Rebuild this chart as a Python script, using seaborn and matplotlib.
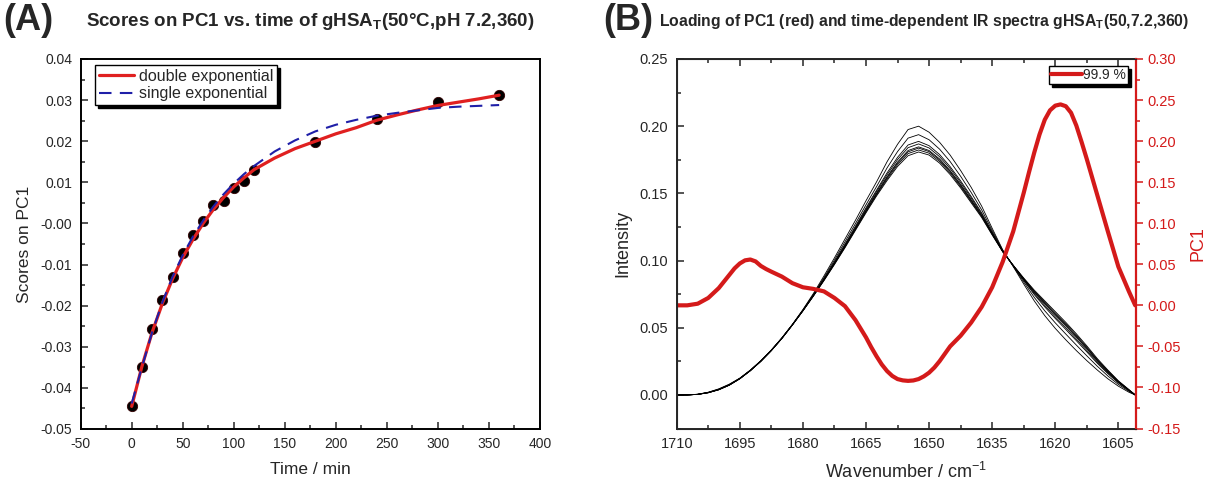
import numpy as np
import seaborn as sns
import matplotlib.pyplot as plt
from matplotlib.ticker import MultipleLocator, FormatStrFormatter

# ---------------- panel A: scores on PC1 vs time ----------------
time_pts = [0, 10, 20, 30, 40, 50, 60, 70, 80, 90, 100, 110, 120, 180, 240, 300, 360]
score_pts = [-0.0445, -0.0348, -0.0257, -0.0186, -0.0131, -0.0073, -0.0028, 0.0006, 0.0045,
             0.0055, 0.0085, 0.0103, 0.0130, 0.0198, 0.0253, 0.0296, 0.0312]

fit_time = [0, 10, 20, 30, 40, 50, 60, 70, 80, 90, 100, 110, 120,
            140, 160, 180, 200, 220, 240, 260, 280, 300, 320, 340, 360]
double_exp = [-0.0445, -0.0348, -0.0265, -0.0195, -0.0135, -0.0083, -0.0039, 0.0000, 0.0034,
              0.0063, 0.0089, 0.0111, 0.0131, 0.0159, 0.0182, 0.0200, 0.0218, 0.0233, 0.0251,
              0.0264, 0.0276, 0.0287, 0.0295, 0.0303, 0.0312]
single_exp = [-0.0438, -0.0350, -0.0265, -0.0192, -0.0130, -0.0077, -0.0032, 0.0007, 0.0041,
              0.0071, 0.0097, 0.0120, 0.0140, 0.0175, 0.0202, 0.0224, 0.0240, 0.0252, 0.0262,
              0.0269, 0.0275, 0.0281, 0.0284, 0.0286, 0.0288]

# ---------------- panel B: IR spectra + PC1 loading ----------------
wavenumber = [1710, 1707.5, 1705, 1702.5, 1700, 1697.5, 1695, 1692.5, 1690, 1687.5, 1685, 1682.5,
              1680, 1677.5, 1675, 1672.5, 1670, 1667.5, 1665, 1662.5, 1660, 1657.5, 1655, 1652.5,
              1650, 1647.5, 1645, 1642.5, 1640, 1637.5, 1635, 1632.5, 1630, 1627.5, 1625, 1622.5,
              1620, 1617.5, 1615, 1612.5, 1610, 1607.5, 1605, 1602.5, 1601]

# intensities in units of 1e-3, earliest spectrum first
spec_1 = [0, 0, 0.5, 2.0, 4.5, 8.0, 12.5, 18.5, 25.5, 33.5, 42.5, 52.5, 63.5, 75.5, 88.5, 102.0,
          116.0, 130.0, 144.5, 158.5, 173.5, 186.5, 197.5, 200.0, 195.5, 188.0, 178.5, 167.0, 154.5,
          140.5, 124.0, 108.0, 95.5, 82.5, 70.0, 59.0, 49.5, 41.0, 33.0, 25.5, 18.5, 12.0, 6.5, 2.0, 0]
spec_2 = [0, 0, 0.5, 1.9, 4.3, 7.7, 12.3, 18.3, 25.3, 33.3, 42.3, 52.3, 63.2, 74.8, 87.3, 100.4,
          113.9, 127.5, 141.5, 155.0, 168.9, 181.1, 191.1, 193.7, 189.9, 182.9, 173.7, 162.7, 150.7,
          137.7, 122.4, 107.5, 95.8, 84.0, 72.6, 62.6, 53.6, 45.3, 37.1, 29.1, 21.3, 14.1, 7.8, 2.7, 0]
spec_3 = [0, 0, 0.4, 1.8, 4.1, 7.5, 12.2, 18.2, 25.2, 33.2, 42.2, 52.2, 62.9, 74.3, 86.4, 99.1,
          112.2, 125.6, 139.2, 152.3, 165.2, 176.8, 186.0, 188.7, 185.5, 178.9, 169.9, 159.3, 147.7,
          135.5, 121.1, 107.1, 96.1, 85.2, 74.7, 65.5, 56.9, 48.7, 40.4, 32.0, 23.5, 15.8, 8.9, 3.2, 0]
spec_4 = [0, 0, 0.4, 1.7, 4.0, 7.4, 12.2, 18.2, 25.2, 33.2, 42.2, 52.2, 62.8, 74.1, 86.1, 98.6,
          111.5, 124.8, 138.3, 151.3, 163.8, 175.1, 184.0, 186.8, 183.8, 177.3, 168.5, 158.0, 146.6,
          134.6, 120.6, 107.0, 96.2, 85.6, 75.5, 66.6, 58.1, 50.0, 41.6, 33.1, 24.4, 16.5, 9.3, 3.4, 0]
spec_5 = [0, 0, 0.4, 1.7, 3.9, 7.4, 12.1, 18.1, 25.1, 33.1, 42.1, 52.1, 62.7, 73.9, 85.7, 98.0,
          110.8, 124.0, 137.3, 150.1, 162.3, 173.3, 181.9, 184.6, 181.9, 175.6, 166.9, 156.6, 145.3,
          133.7, 120.0, 106.8, 96.3, 86.1, 76.4, 67.8, 59.5, 51.4, 43.0, 34.3, 25.3, 17.2, 9.7, 3.6, 0]
spec_6 = [0, 0, 0.4, 1.7, 3.9, 7.3, 12.1, 18.1, 25.1, 33.1, 42.1, 52.1, 62.6, 73.8, 85.5, 97.8,
          110.5, 123.6, 136.9, 149.6, 161.6, 172.5, 180.9, 183.7, 181.1, 174.8, 166.2, 155.9, 144.7,
          133.3, 119.8, 106.7, 96.4, 86.3, 76.8, 68.4, 60.1, 52.1, 43.6, 34.9, 25.7, 17.5, 9.9, 3.7, 0]
spec_7 = [0, 0, 0.4, 1.6, 3.9, 7.3, 12.0, 18.0, 25.0, 33.0, 42.0, 52.0, 62.6, 73.7, 85.3, 97.4,
          110.0, 123.1, 136.2, 148.8, 160.6, 171.3, 179.6, 182.3, 179.9, 173.7, 165.2, 155.0, 143.9,
          132.7, 119.4, 106.6, 96.4, 86.6, 77.4, 69.1, 61.0, 53.0, 44.5, 35.6, 26.3, 18.0, 10.2, 3.8, 0]
spec_8 = [0, 0, 0.4, 1.6, 3.8, 7.2, 12.0, 18.0, 25.0, 33.0, 42.0, 52.0, 62.5, 73.5, 85.0, 97.0,
          109.5, 122.5, 135.5, 148.0, 159.5, 170.0, 178.0, 180.8, 178.5, 172.5, 164.0, 154.0, 143.0,
          132.0, 119.0, 106.5, 96.5, 87.0, 78.0, 70.0, 62.0, 54.0, 45.5, 36.5, 27.0, 18.5, 10.5, 4.0, 0]
spectra = [spec_1, spec_2, spec_3, spec_4, spec_5, spec_6, spec_7, spec_8]

# PC1 loading, read on a finer grid around its extrema
loading_wn = [1710, 1707.5, 1705, 1702.5, 1700, 1698.75, 1697.5, 1696.25, 1695, 1693.75, 1692.5,
              1691.25, 1690, 1688.75, 1687.5, 1685, 1682.5, 1680, 1677.5, 1675, 1672.5, 1670,
              1667.5, 1665, 1663.75, 1662.5, 1661.25, 1660, 1658.75, 1657.5, 1656.25, 1655,
              1653.75, 1652.5, 1651.25, 1650, 1648.75, 1647.5, 1645, 1642.5, 1640, 1637.5, 1635,
              1632.5, 1630, 1627.5, 1626.25, 1625, 1623.75, 1622.5, 1621.25, 1620, 1618.75,
              1617.5, 1616.25, 1615, 1613.75, 1612.5, 1611.25, 1610, 1607.5, 1605, 1602.5, 1601]
pc1_loading = [0.000, 0.000, 0.002, 0.009, 0.021, 0.029, 0.037, 0.045, 0.051, 0.0548, 0.0558,
               0.0535, 0.048, 0.0442, 0.041, 0.035, 0.027, 0.022, 0.020, 0.017, 0.009, -0.001,
               -0.018, -0.039, -0.051, -0.062, -0.072, -0.080, -0.086, -0.0898, -0.0914, -0.092,
               -0.0915, -0.0898, -0.0865, -0.082, -0.0758, -0.068, -0.050, -0.037, -0.021, -0.002,
               0.022, 0.053, 0.090, 0.137, 0.162, 0.186, 0.208, 0.226, 0.2375, 0.2432, 0.2447,
               0.2425, 0.2345, 0.219, 0.199, 0.178, 0.156, 0.134, 0.090, 0.047, 0.017, 0.000]
explained = '99.9 %'

# ---------------- style ----------------
sns.set_style('ticks')
plt.rcParams['font.family'] = ['Liberation Sans', 'DejaVu Sans']
plt.rcParams['mathtext.fontset'] = 'custom'
plt.rcParams['mathtext.rm'] = 'Liberation Sans'
plt.rcParams['mathtext.bf'] = 'Liberation Sans:bold'
plt.rcParams['axes.unicode_minus'] = False

RED = '#d41a1a'
fig = plt.figure(figsize=(12.11, 4.9), dpi=100)
axA = fig.add_axes([0.0666, 0.1245, 0.3793, 0.7551])
axB = fig.add_axes([0.5588, 0.1255, 0.3793, 0.7541])

# panel A
sns.scatterplot(x=time_pts, y=score_pts, ax=axA, color='black', s=55, edgecolor='#330000',
                linewidth=0.6, zorder=2, legend=False)
sns.lineplot(x=fit_time, y=double_exp, ax=axA, color='#e02020', lw=2.3, zorder=3,
             label='double exponential')
sns.lineplot(x=fit_time, y=single_exp, ax=axA, color='#1f1fa8', lw=1.5, zorder=4,
             label='single exponential')
axA.lines[-1].set_dashes([6, 4])

axA.set_xlim(-50, 400)
axA.set_ylim(-0.05, 0.04)
axA.xaxis.set_major_locator(MultipleLocator(50))
axA.xaxis.set_minor_locator(MultipleLocator(25))
axA.yaxis.set_major_locator(MultipleLocator(0.01))
axA.yaxis.set_minor_locator(MultipleLocator(0.005))
axA.yaxis.set_major_formatter(FormatStrFormatter('%.2f'))
axA.tick_params(which='both', direction='in', top=False, right=False, labelsize=10, width=1.1)
axA.tick_params(which='major', length=5, pad=6)
axA.tick_params(which='minor', length=3)
for sp in axA.spines.values():
    sp.set_linewidth(1.4)
    sp.set_color('black')
axA.set_xlabel('Time / min', fontsize=12.5, labelpad=8)
axA.set_ylabel('Scores on PC1', fontsize=12.5, labelpad=6)
legA = axA.legend(loc='upper left', bbox_to_anchor=(0.031, 0.984), borderaxespad=0,
                  fancybox=False, shadow={'color': 'black', 'alpha': 1}, framealpha=1,
                  edgecolor='black', fontsize=11.5, handlelength=2.2, borderpad=0.25,
                  labelspacing=0.15, handletextpad=0.3)
legA.get_frame().set_linewidth(1.0)

# panel B
for spec in spectra:
    sns.lineplot(x=wavenumber, y=np.array(spec) / 1000, ax=axB, color='black', lw=0.6,
                 legend=False)
axB.set_xlim(1710, 1600.8)
axB.set_ylim(-0.025, 0.25)
axB.xaxis.set_major_locator(MultipleLocator(15))
axB.xaxis.set_minor_locator(MultipleLocator(7.5))
axB.yaxis.set_major_locator(MultipleLocator(0.05))
axB.yaxis.set_minor_locator(MultipleLocator(0.025))
axB.yaxis.set_major_formatter(FormatStrFormatter('%.2f'))
axB.tick_params(which='both', direction='in', top=True, right=False, labelsize=10.5, width=1.1)
axB.tick_params(which='major', length=5, pad=6)
axB.tick_params(which='minor', length=3)
for sp in axB.spines.values():
    sp.set_linewidth(1.4)
axB.set_xlabel(r'Wavenumber / cm$^{-1}$', fontsize=13, labelpad=8)
axB.set_ylabel('Intensity', fontsize=13, labelpad=6)

axR = axB.twinx()
sns.lineplot(x=loading_wn, y=pc1_loading, ax=axR, color=RED, lw=3.0, label=explained)
axR.set_xlim(1710, 1600.8)
axR.set_ylim(-0.15, 0.30)
axR.yaxis.set_major_locator(MultipleLocator(0.05))
axR.yaxis.set_minor_locator(MultipleLocator(0.025))
axR.yaxis.set_major_formatter(FormatStrFormatter('%.2f'))
axR.tick_params(axis='y', which='both', direction='out', colors=RED, labelsize=10.5, width=1.1)
axR.tick_params(axis='y', which='major', length=5)
axR.tick_params(axis='y', which='minor', length=3)
axR.spines['right'].set_color(RED)
axR.spines['right'].set_linewidth(1.6)
axR.set_ylabel('PC1', color=RED, fontsize=13, labelpad=6)
legB = axR.legend(loc='upper right', bbox_to_anchor=(0.983, 0.981), borderaxespad=0,
                  fancybox=False, shadow={'color': 'black', 'alpha': 1}, framealpha=1,
                  edgecolor='black', fontsize=10, handlelength=2.2, borderpad=0.15,
                  handletextpad=0.1)
legB.get_frame().set_linewidth(1.0)

# titles and panel letters
fig.text(0.256, 0.957, r'Scores on PC1 vs. time of gHSA$_\mathbf{T}$(50°C,pH 7.2,360)',
         ha='center', va='center', fontsize=13.5, fontweight='bold')
fig.text(0.763, 0.957, r'Loading of PC1 (red) and time-dependent IR spectra gHSA$_\mathbf{T}$(50,7.2,360)',
         ha='center', va='center', fontsize=11.3, fontweight='bold')
fig.text(0.003, 0.958, '(A)', ha='left', va='center', fontsize=26, fontweight='bold')
fig.text(0.498, 0.958, '(B)', ha='left', va='center', fontsize=26, fontweight='bold')

fig.savefig('out.png', dpi=100)
